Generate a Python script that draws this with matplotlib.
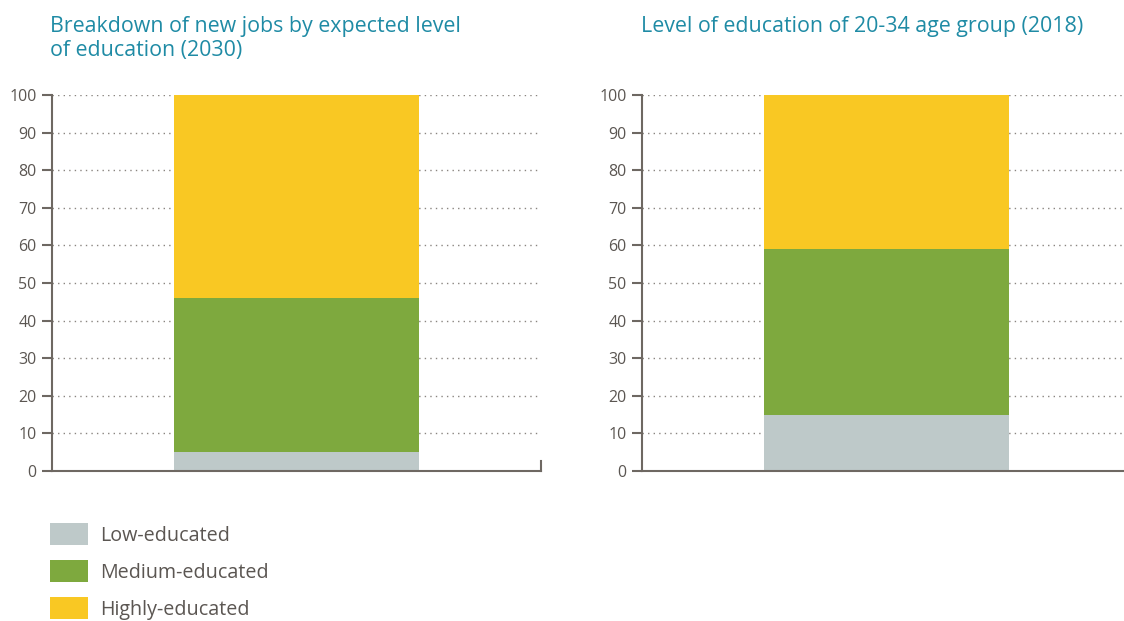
import matplotlib
matplotlib.use("Agg")
import matplotlib.pyplot as plt
from matplotlib.patches import Rectangle
from matplotlib.lines import Line2D

plt.rcParams['font.family'] = ['Open Sans', 'DejaVu Sans']

# Shares (%) by education level
levels = ["Low-educated", "Medium-educated", "Highly-educated"]
jobs_2030 = [5, 41, 54]
youth_2018 = [15, 44, 41]
colors = ["#bec9c9", "#7ea93e", "#f9c823"]
titles = ["Breakdown of new jobs by expected level\nof education (2030)",
          "Level of education of 20-34 age group (2018)"]
yticks = list(range(0, 101, 10))

TITLE_C = "#1f8ba5"
TEXT_C = "#5b5652"
AXIS_C = "#6e6862"
GRID_C = "#8a8580"

W, H = 1124, 621
fig = plt.figure(figsize=(W / 100, H / 100), dpi=100)

def px_axes(x0, x1, y_top, y_bot):
    return fig.add_axes([x0 / W, 1 - y_bot / H, (x1 - x0) / W, (y_bot - y_top) / H])

axes = [px_axes(52, 541, 95, 471), px_axes(642, 1131, 95, 471)]
title_x = [50, 641]

for i, (ax, vals) in enumerate(zip(axes, [jobs_2030, youth_2018])):
    bottom = 0
    for v, c in zip(vals, colors):
        ax.bar(0, v, width=1.0, bottom=bottom, color=c, zorder=3, linewidth=0)
        bottom += v
    ax.set_xlim(-1, 1)
    ax.set_ylim(0, 100)
    ax.set_yticks(yticks)
    ax.set_xticks([])
    ax.yaxis.grid(True, linestyle=(0, (1, 3)), color=GRID_C, linewidth=1.0, zorder=1)
    for t in ax.yaxis.get_gridlines()[:1]:
        t.set_visible(False)
    for s in ["top", "right"]:
        ax.spines[s].set_visible(False)
    for s in ["left", "bottom"]:
        ax.spines[s].set_color(AXIS_C)
        ax.spines[s].set_linewidth(1.5)
        ax.spines[s].set_zorder(4)
    ax.tick_params(axis="y", direction="out", length=7, width=1.5, color=AXIS_C,
                   labelsize=11.5, labelcolor=TEXT_C, pad=4)
    fig.text(title_x[i] / W, 1 - 16 / H, titles[i], ha="left", va="top",
             fontsize=15.4, color=TITLE_C, linespacing=1.2)

# closing tick at the end of the first axis' baseline
axes[0].add_line(Line2D([1, 1], [0, 10 / 376], transform=axes[0].transAxes,
                        color=AXIS_C, linewidth=1.5, clip_on=False))

# legend
for j, (lab, c) in enumerate(zip(levels, colors)):
    y_top = 523 + j * 37
    fig.add_artist(Rectangle((50 / W, 1 - (y_top + 22) / H), 38 / W, 22 / H,
                             transform=fig.transFigure, color=c, linewidth=0))
    fig.text(100 / W, 1 - (y_top + 13) / H, lab, ha="left", va="center",
             fontsize=14.2, color=TEXT_C)

fig.savefig("out.png", dpi=100)
